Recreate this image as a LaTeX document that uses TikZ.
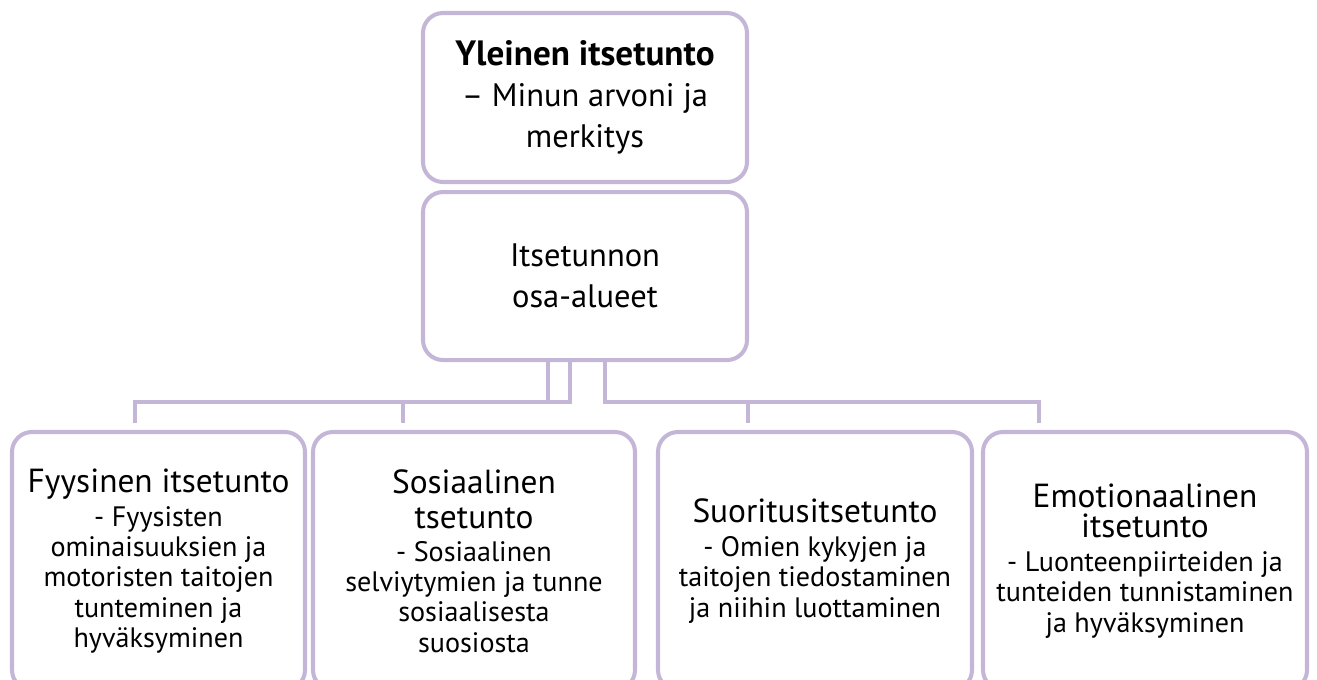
\documentclass[tikz,border=0pt]{standalone}
\usepackage{fontspec}
\setmainfont{PT Sans}
\usepackage{xcolor}
\usepackage{tikz}
\usetikzlibrary{positioning}
\definecolor{lila}{RGB}{196,182,214}
\newcommand{\isofont}{\fontsize{19}{22}\selectfont}
\newcommand{\pienifont}{\fontsize{16}{17.3}\selectfont}
\newcommand{\ylafont}{\fontsize{18.5}{23.5}\selectfont}

\begin{document}
\begin{tikzpicture}[laatikko/.style={draw=lila,line width=2.3pt,rounded corners=0.4cm,align=center,inner sep=0pt},
	linja/.style={draw=lila,line width=2.3pt}]
		\useasboundingbox (0,0) rectangle (26.34,-13.6);
		\node[laatikko,minimum width=6.48cm,minimum height=3.38cm,font=\ylafont] (yleinen) at (11.70,-1.95) {{\fontsize{20}{23.5}\selectfont\textbf{Yleinen itsetunto}}\\– Minun arvoni ja\\merkitys};
		\node[laatikko,minimum width=6.48cm,minimum height=3.36cm,font=\ylafont,below=0.12cm of yleinen] (osa) {Itsetunnon\\osa-alueet};
		% alemmat laatikot
		\node[laatikko,minimum width=5.86cm,minimum height=5.16cm,font=\pienifont] (fyys) at (3.17,-11.22) {{\isofont Fyysinen itsetunto}\\[2pt]- Fyysisten\\ominaisuuksien ja\\motoristen taitojen\\tunteminen ja\\hyväksyminen};
		\node[laatikko,minimum width=6.44cm,minimum height=5.16cm,font=\pienifont] (sos) at (9.48,-11.22) {{\isofont Sosiaalinen}\\[3pt]{\isofont tsetunto}\\[1pt]- Sosiaalinen\\selviytymien ja tunne\\sosiaalisesta\\suosiosta};
		\node[laatikko,minimum width=6.28cm,minimum height=5.16cm,font=\pienifont] (suor) at (16.30,-11.22) {{\isofont Suoritusitsetunto}\\[2pt]- Omien kykyjen ja\\taitojen tiedostaminen\\ja niihin luottaminen};
		\node[laatikko,minimum width=6.48cm,minimum height=5.16cm,font=\pienifont] (emo) at (22.90,-11.22) {{\isofont Emotionaalinen}\\{\isofont itsetunto}\\[2pt]- Luonteenpiirteiden ja\\tunteiden tunnistaminen\\ja hyväksyminen};
		\coordinate (k1) at (2.70,-8.46);
		\coordinate (k2) at (8.06,-8.46);
		\coordinate (k3) at (14.96,-8.46);
		\coordinate (k4) at (20.78,-8.46);
		\draw[linja] (osa.south -| 10.96,0) -- (10.96,-8.04);
		\draw[linja] (osa.south -| 11.40,0) -- (11.40,-8.04) -| (k1);
		\draw[linja] (8.06,-8.04) -- (k2);
		\draw[linja] (osa.south -| 12.10,0) -- (12.10,-8.04) -| (k4);
		\draw[linja] (14.96,-8.04) -- (k3);
	\end{tikzpicture}
\end{document}
